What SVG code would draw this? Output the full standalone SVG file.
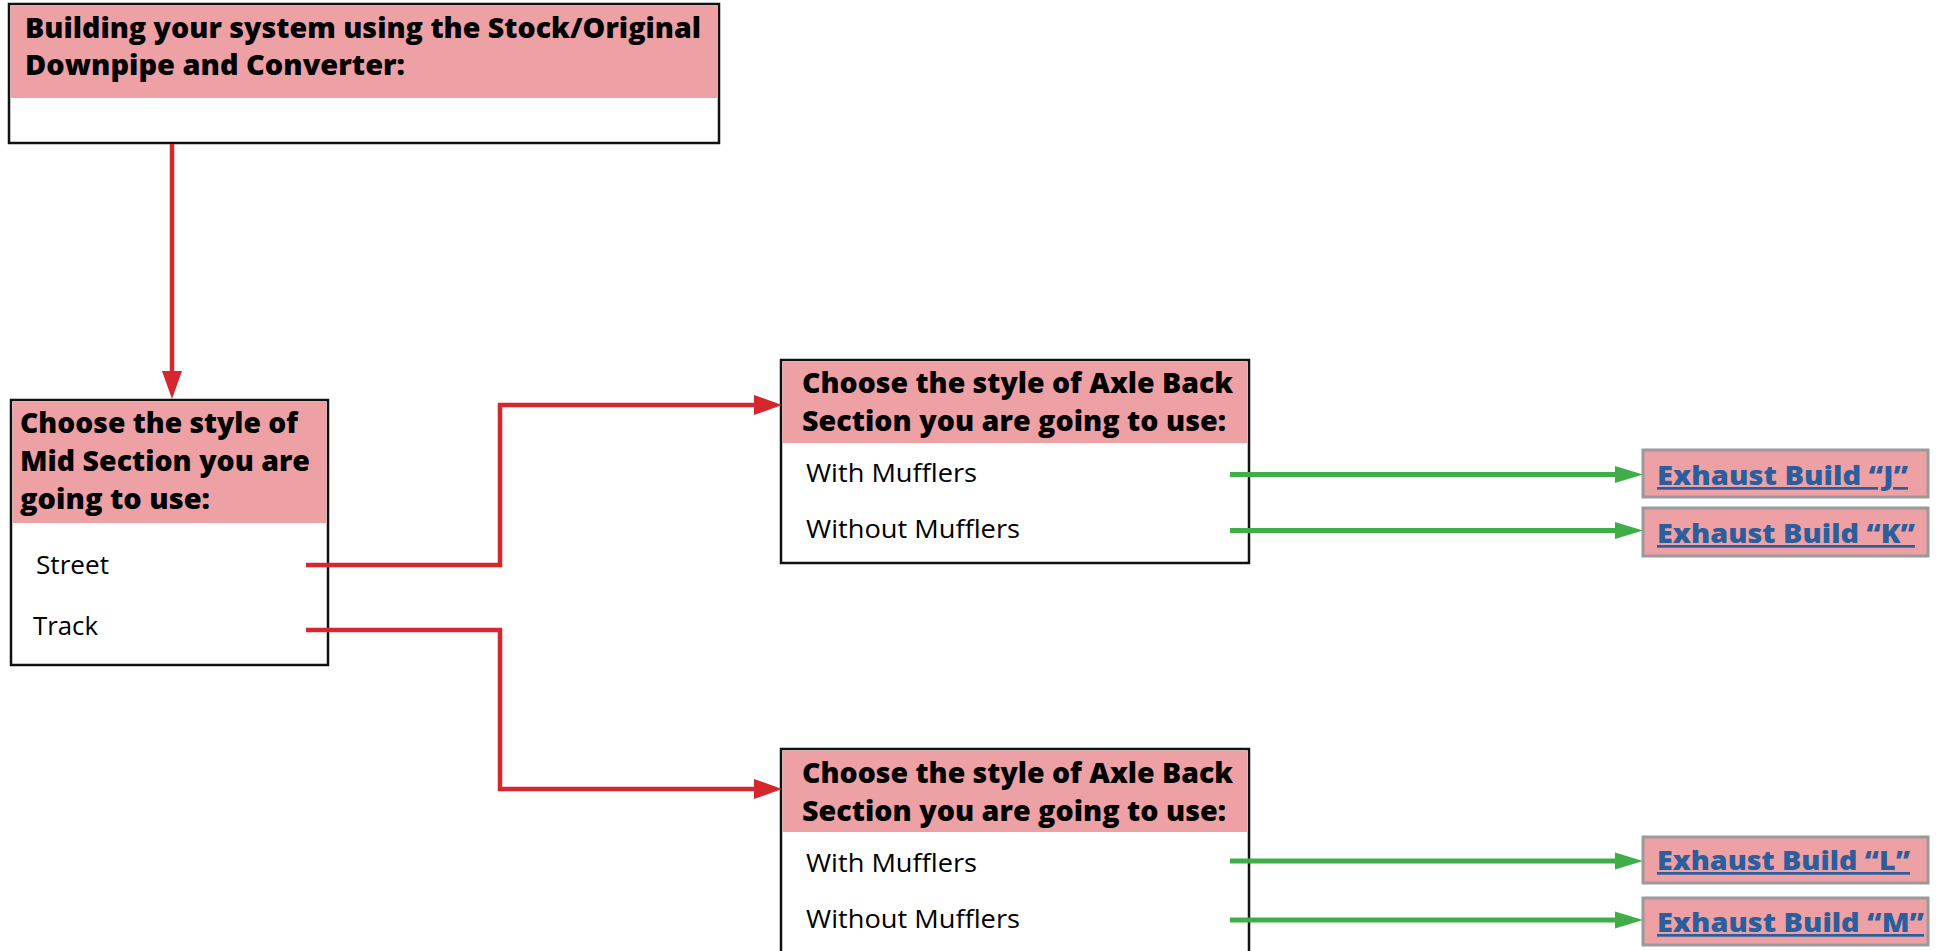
<svg xmlns="http://www.w3.org/2000/svg" width="1940" height="951" viewBox="0 0 1940 951">
<style>
.box{fill:#ffffff;stroke:#111111;stroke-width:2.5}
.hdr{fill:#eea1a5}
.h{font-family:"Open Sans","Liberation Sans",sans-serif;font-weight:800;font-size:28px;fill:#000}
.t{font-family:"Open Sans","Liberation Sans",sans-serif;font-size:25px;fill:#000}
.ex{fill:#eea1a5;stroke:#9a9a9a;stroke-width:3}
.exl{font-family:"Open Sans","Liberation Sans",sans-serif;font-weight:800;font-size:27px;fill:#2a5e9c;text-decoration:underline}
.red{fill:none;stroke:#d6262e;stroke-width:4.5}
.grn{fill:none;stroke:#3fae49;stroke-width:5}
.rh{fill:#d6262e}
.gh{fill:#3fae49}
</style>
<rect width="1940" height="951" fill="#ffffff"/>
<g id="start">
<rect class="box" x="9" y="4" width="710" height="139"/>
<rect class="hdr" x="10.5" y="5.5" width="707" height="92.5"/>
<text class="h" x="25" y="38" textLength="676" lengthAdjust="spacingAndGlyphs">Building your system using the Stock/Original</text>
<text class="h" x="25" y="75" textLength="380" lengthAdjust="spacingAndGlyphs">Downpipe and Converter:</text>
</g>
<g id="mid">
<rect class="box" x="11" y="400" width="317" height="265"/>
<rect class="hdr" x="12.5" y="401.5" width="314" height="121.5"/>
<text class="h" x="20" y="433" textLength="278" lengthAdjust="spacingAndGlyphs">Choose the style of</text>
<text class="h" x="20" y="471" textLength="290" lengthAdjust="spacingAndGlyphs">Mid Section you are</text>
<text class="h" x="20" y="509" textLength="190" lengthAdjust="spacingAndGlyphs">going to use:</text>
<text class="t" x="36" y="574" textLength="73" lengthAdjust="spacingAndGlyphs">Street</text>
<text class="t" x="33" y="635" textLength="65" lengthAdjust="spacingAndGlyphs">Track</text>
</g>
<g id="axle1">
<rect class="box" x="781" y="360" width="468" height="203"/>
<rect class="hdr" x="782.5" y="361.5" width="465" height="81.5"/>
<text class="h" x="802" y="393" textLength="431" lengthAdjust="spacingAndGlyphs">Choose the style of Axle Back</text>
<text class="h" x="802" y="431" textLength="424" lengthAdjust="spacingAndGlyphs">Section you are going to use:</text>
<text class="t" x="806" y="482" textLength="171" lengthAdjust="spacingAndGlyphs">With Mufflers</text>
<text class="t" x="806" y="538" textLength="214" lengthAdjust="spacingAndGlyphs">Without Mufflers</text>
</g>
<g id="axle2">
<rect class="box" x="781" y="749" width="468" height="215"/>
<rect class="hdr" x="782.5" y="750.5" width="465" height="81.5"/>
<text class="h" x="802" y="783" textLength="431" lengthAdjust="spacingAndGlyphs">Choose the style of Axle Back</text>
<text class="h" x="802" y="821" textLength="424" lengthAdjust="spacingAndGlyphs">Section you are going to use:</text>
<text class="t" x="806" y="872" textLength="171" lengthAdjust="spacingAndGlyphs">With Mufflers</text>
<text class="t" x="806" y="928" textLength="214" lengthAdjust="spacingAndGlyphs">Without Mufflers</text>
</g>
<g id="buildJ">
<rect class="ex" x="1643" y="450" width="285" height="47"/>
<text class="exl" x="1657" y="485" textLength="251" lengthAdjust="spacingAndGlyphs">Exhaust Build “J”</text>
</g>
<g id="buildK">
<rect class="ex" x="1643" y="508" width="285" height="48"/>
<text class="exl" x="1657" y="543" textLength="258" lengthAdjust="spacingAndGlyphs">Exhaust Build “K”</text>
</g>
<g id="buildL">
<rect class="ex" x="1643" y="837" width="285" height="46"/>
<text class="exl" x="1657" y="870" textLength="253" lengthAdjust="spacingAndGlyphs">Exhaust Build “L”</text>
</g>
<g id="buildM">
<rect class="ex" x="1643" y="898" width="285" height="47"/>
<text class="exl" x="1657" y="932" textLength="267" lengthAdjust="spacingAndGlyphs">Exhaust Build “M”</text>
</g>
<g id="connectors">
<line class="red" x1="172" y1="144" x2="172" y2="373"/>
<polygon class="rh" points="162,371 182,371 172,399"/>
<polyline class="red" points="306,565 500,565 500,405 756,405"/>
<polygon class="rh" points="754,395 754,415 782,405"/>
<polyline class="red" points="306,630 500,630 500,789 756,789"/>
<polygon class="rh" points="754,779 754,799 782,789"/>
<line class="grn" x1="1230" y1="474.5" x2="1617" y2="474.5"/>
<polygon class="gh" points="1615,466 1615,483 1643,474.5"/>
<line class="grn" x1="1230" y1="530.5" x2="1617" y2="530.5"/>
<polygon class="gh" points="1615,522 1615,539 1643,530.5"/>
<line class="grn" x1="1230" y1="861" x2="1617" y2="861"/>
<polygon class="gh" points="1615,852.5 1615,869.5 1643,861"/>
<line class="grn" x1="1230" y1="920" x2="1617" y2="920"/>
<polygon class="gh" points="1615,911.5 1615,928.5 1643,920"/>
</g>
</svg>
